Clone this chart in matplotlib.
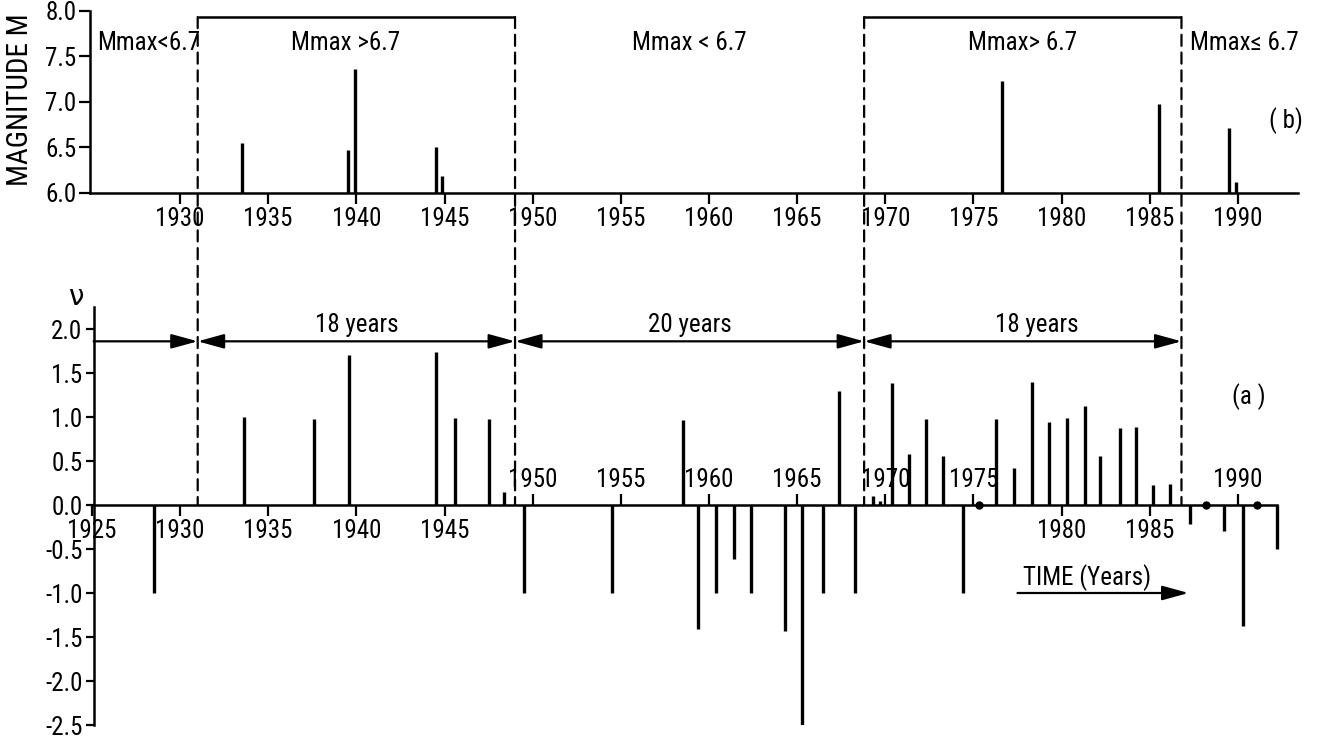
import matplotlib
matplotlib.use("Agg")
import matplotlib.pyplot as plt
from matplotlib import font_manager
from matplotlib.patches import ConnectionPatch

# ---------------- data ----------------
# (b) magnitudes of the large earthquakes
mag_years = [1933.5, 1939.55, 1939.95, 1944.5, 1944.85, 1976.6, 1985.5, 1989.5, 1989.9]
mag_values = [6.55, 6.47, 7.36, 6.50, 6.19, 7.23, 6.98, 6.71, 6.12]

# (a) nu values
nu_years = [1928.5, 1933.6, 1937.6, 1939.6, 1944.5, 1945.6, 1947.5, 1948.35,
            1949.5, 1954.5, 1958.5, 1959.4, 1960.4, 1961.4, 1962.4, 1964.3,
            1965.3, 1966.45, 1967.4, 1968.3, 1969.3, 1969.7, 1970.4, 1971.35,
            1972.3, 1973.3, 1974.4, 1975.3, 1976.3, 1977.3, 1978.3, 1979.3,
            1980.3, 1981.3, 1982.2, 1983.3, 1984.2, 1985.2, 1986.15, 1987.3,
            1988.2, 1989.2, 1990.3, 1991.1, 1992.2]
nu_values = [-1.0, 1.0, 0.98, 1.70, 1.74, 0.99, 0.98, 0.15,
             -1.0, -1.0, 0.97, -1.41, -1.0, -0.61, -1.0, -1.43,
             -2.5, -1.0, 1.30, -1.0, 0.10, 0.04, 1.39, 0.58,
             0.98, 0.56, -1.0, 0.0, 0.98, 0.42, 1.40, 0.94,
             0.99, 1.12, 0.56, 0.87, 0.89, 0.23, 0.24, -0.22,
             0.0, -0.30, -1.37, 0.0, -0.50]

regime_bounds = [1931.0, 1949.0, 1968.8, 1986.8]
regime_labels = ["Mmax<6.7", "Mmax >6.7", "Mmax < 6.7", "Mmax> 6.7", "Mmax\u2264 6.7"]
regime_label_x = [1925.3, 1939.4, 1958.9, 1977.8, 1987.3]
regime_label_ha = ["left", "center", "center", "center", "left"]
period_labels = ["18 years", "20 years", "18 years"]
period_label_x = [1940.0, 1958.9, 1978.6]

top_xticks = [1930, 1935, 1940, 1945, 1950, 1955, 1960, 1965, 1970, 1975, 1980, 1985, 1990]
top_yticks = [6.0, 6.5, 7.0, 7.5, 8.0]
low_yticks = [-2.5, -2.0, -1.5, -1.0, -0.5, 0.0, 0.5, 1.0, 1.5, 2.0]
low_ticks_below = [1925, 1930, 1935, 1940, 1945, 1980, 1985]
low_ticks_above = [1950, 1955, 1960, 1965, 1970, 1975, 1990]

# ---------------- fonts ----------------
entries = font_manager.fontManager.ttflist
names = {f.name for f in entries}
chosen = None
for cand in ["Liberation Sans Narrow", "Roboto Condensed", "Open Sans Condensed",
             "Noto Sans Condensed", "DejaVu Sans Condensed", "Arial Narrow"]:
    if cand in names:
        chosen = cand
        break
if chosen is None:
    for f in entries:
        if ("Condensed" in f.name or "Narrow" in f.name) and "Mono" not in f.name \
                and "Serif" not in f.name:
            chosen = f.name
            break
if chosen is not None:
    plt.rcParams["font.family"] = [chosen, "DejaVu Sans"]
    S = 1.0
elif any("DejaVuSansCondensed" in f.fname for f in entries):
    plt.rcParams["font.family"] = ["DejaVu Sans"]
    plt.rcParams["font.stretch"] = "condensed"
    S = 0.92
else:
    plt.rcParams["font.family"] = ["DejaVu Sans"]
    S = 0.88

TICK = 18 * S
TXT = 18 * S
LW = 1.8
BAR = 2.4

fig = plt.figure(figsize=(13.18, 7.42), dpi=100)
XL = (1924.9, 1993.4)
ax_t = fig.add_axes([0.0684, 0.7399, 0.9163, 0.2453])
ax_b = fig.add_axes([0.0684, 0.02291, 0.9163, 0.56334])

# ---------------- top panel (b) ----------------
ax_t.vlines(mag_years, 6.0, mag_values, color="k", lw=BAR)
ax_t.set_xlim(XL)
ax_t.set_ylim(6.0, 8.0)
for s in ("top", "right"):
    ax_t.spines[s].set_visible(False)
for s in ("left", "bottom"):
    ax_t.spines[s].set_linewidth(LW)
ax_t.set_xticks(top_xticks, labels=[str(v) for v in top_xticks])
ax_t.set_yticks(top_yticks, labels=[f"{v:.1f}" for v in top_yticks])
ax_t.tick_params(direction="out", length=8, width=1.6, labelsize=TICK, pad=2)
ax_t.set_ylabel("MAGNITUDE M", fontsize=21 * S)
ax_t.yaxis.set_label_coords(-0.058, 0.51)
ax_t.yaxis.label.set_va("center")

box_top = 7.934
ax_t.hlines([box_top, box_top], [regime_bounds[0], regime_bounds[2]],
            [regime_bounds[1], regime_bounds[3]], color="k", lw=LW)
for lab, x, ha in zip(regime_labels, regime_label_x, regime_label_ha):
    ax_t.text(x, 7.65, lab, ha=ha, va="center", fontsize=TXT)
ax_t.text(1992.7, 6.80, "( b)", ha="center", va="center", fontsize=TXT)

# ---------------- lower panel (a) ----------------
nz_x = [x for x, v in zip(nu_years, nu_values) if v != 0]
nz_v = [v for v in nu_values if v != 0]
z_x = [x for x, v in zip(nu_years, nu_values) if v == 0]
ax_b.vlines(nz_x, 0, nz_v, color="k", lw=BAR)
ax_b.plot(z_x, [0] * len(z_x), "o", color="k", ms=5, clip_on=False)
ax_b.set_xlim(XL)
ax_b.set_ylim(-2.5, 2.25)
for s in ("top", "right"):
    ax_b.spines[s].set_visible(False)
ax_b.spines["bottom"].set_position(("data", 0))
ax_b.spines["bottom"].set_bounds(1925.1, 1992.2)
ax_b.spines["left"].set_position(("data", 1925.1))
for s in ("left", "bottom"):
    ax_b.spines[s].set_linewidth(LW)

ax_b.set_yticks(low_yticks, labels=[f"{v:.1f}" for v in low_yticks])
ax_b.tick_params(axis="y", direction="out", length=6, width=1.6, labelsize=TICK, pad=2)
ax_b.set_xticks(low_ticks_below, labels=[str(v) for v in low_ticks_below])
ax_b.set_xticks(low_ticks_above, labels=[str(v) for v in low_ticks_above], minor=True)
ax_b.tick_params(axis="x", which="major", direction="out", length=8, width=1.6,
                 labelsize=TICK, pad=2)
ax_b.tick_params(axis="x", which="minor", direction="in", length=8, width=1.6,
                 labelsize=TICK, pad=-27)

yA = 1.86
ax_b.annotate("", xy=(regime_bounds[0], yA), xytext=(1925.1, yA),
              arrowprops=dict(arrowstyle="-|>,head_length=0.8,head_width=0.22",
                              mutation_scale=20, lw=1.6, color="k",
                              shrinkA=0, shrinkB=0))
for a, b in zip(regime_bounds[:-1], regime_bounds[1:]):
    ax_b.annotate("", xy=(b, yA), xytext=(a, yA),
                  arrowprops=dict(arrowstyle="<|-|>,head_length=0.8,head_width=0.22",
                                  mutation_scale=20, lw=1.6, color="k",
                                  shrinkA=0, shrinkB=0))
for lab, x in zip(period_labels, period_label_x):
    ax_b.text(x, 2.05, lab, ha="center", va="center", fontsize=TXT)

ax_b.text(1924.1, 2.36, "\u03bd", ha="center", va="center", fontsize=TXT + 2,
          family=["DejaVu Sans"], clip_on=False)
ax_b.text(1990.6, 1.23, "(a )", ha="center", va="center", fontsize=TXT)
ax_b.text(1977.8, -0.82, "TIME (Years)", ha="left", va="center", fontsize=TXT)
ax_b.annotate("", xy=(1987.2, -1.0), xytext=(1977.5, -1.0),
              arrowprops=dict(arrowstyle="-|>,head_length=0.8,head_width=0.22",
                              mutation_scale=20, lw=1.6, color="k",
                              shrinkA=0, shrinkB=0))

# dashed regime boundaries across both panels
for x in regime_bounds:
    con = ConnectionPatch(xyA=(x, box_top), coordsA=ax_t.transData,
                          xyB=(x, 0), coordsB=ax_b.transData,
                          linestyle=(0, (5, 3)), lw=1.6, color="k")
    fig.add_artist(con)

fig.savefig("out.png", dpi=100)
